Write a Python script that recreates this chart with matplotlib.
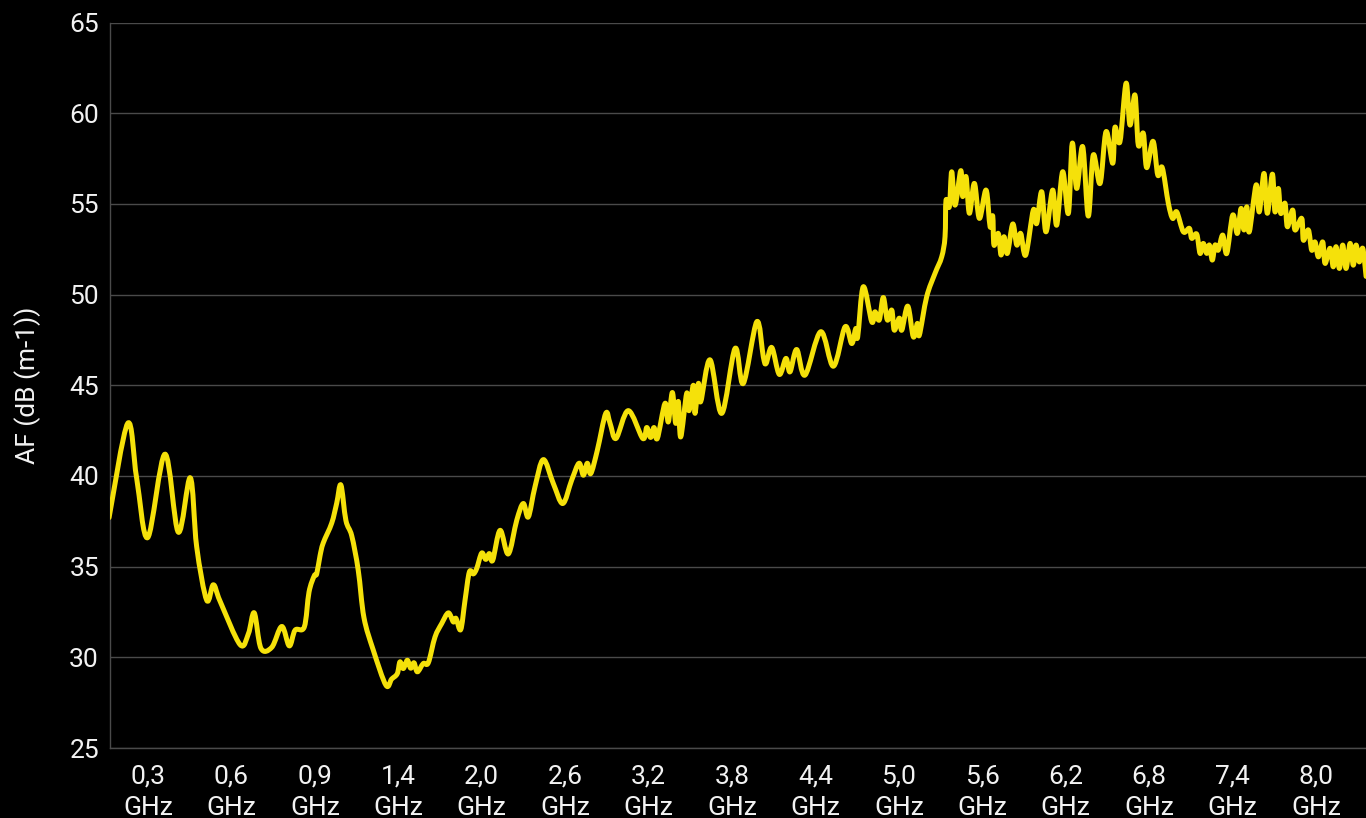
import numpy as np
import matplotlib
matplotlib.use("Agg")
import matplotlib.pyplot as plt
from matplotlib.path import Path
from matplotlib.patches import PathPatch

plt.rcParams["font.family"] = ["Roboto", "DejaVu Sans"]

# frequency (MHz) and antenna factor (dB(m-1))
freq_mhz = [
    160, 227, 259, 299, 361, 409, 452, 475, 511, 535, 559, 631, 661, 682, 706,
    745, 781, 808, 829, 862, 879, 898, 911, 931, 950, 1001, 1031, 1056, 1086,
    1121, 1160, 1194, 1250, 1326, 1360, 1394, 1412, 1436, 1465, 1489, 1513,
    1537, 1580, 1616, 1664, 1712, 1760, 1796, 1815, 1849, 1880, 1911, 1940,
    1964, 2000, 2029, 2055, 2079, 2132, 2191, 2252, 2299, 2335, 2383, 2443,
    2515, 2583, 2647, 2700, 2731, 2759, 2784, 2831, 2892, 2923, 2966, 3054,
    3158, 3187, 3215, 3239, 3263, 3318, 3342, 3371, 3395, 3414, 3431, 3474,
    3491, 3522, 3534, 3558, 3575, 3642, 3726, 3822, 3881, 3978, 4025, 4045,
    4086, 4140, 4188, 4217, 4265, 4325, 4438, 4529, 4613, 4661, 4690, 4704,
    4744, 4805, 4828, 4859, 4888, 4917, 4949, 4967, 5003, 5021, 5064, 5104,
    5133, 5147, 5200, 5260, 5308, 5332, 5339, 5363, 5380, 5404, 5445, 5459,
    5483, 5507, 5543, 5579, 5627, 5656, 5675, 5684, 5715, 5735, 5756, 5780,
    5819, 5848, 5876, 5912, 5967, 5991, 6027, 6058, 6106, 6135, 6178, 6219,
    6247, 6279, 6322, 6362, 6398, 6447, 6490, 6538, 6554, 6590, 6634, 6662,
    6698, 6722, 6758, 6782, 6828, 6862, 6894, 6938, 6969, 6998, 7046, 7089,
    7106, 7142, 7166, 7189, 7214, 7233, 7254, 7274, 7297, 7329, 7358, 7401,
    7434, 7461, 7482, 7502, 7520, 7569, 7592, 7626, 7650, 7686, 7705, 7729,
    7746, 7777, 7794, 7832, 7849, 7897, 7909, 7945, 7969, 7993, 8017, 8048,
    8065, 8101, 8124, 8144, 8168, 8192, 8216, 8245, 8268, 8288, 8311, 8336,
    8360,
]
af_db = [
    37.7, 42.9, 39.9, 36.6, 41.2, 36.9, 39.9, 36.1, 33.15, 34.0, 33.1, 30.7,
    31.3, 32.45, 30.5, 30.55, 31.7, 30.63, 31.5, 31.67, 33.6, 34.5, 34.6, 35.6,
    36.3, 37.4, 38.5, 39.5, 37.55, 36.7, 34.8, 32.2, 30.4, 28.46, 28.8, 29.1,
    29.75, 29.38, 29.84, 29.4, 29.7, 29.2, 29.66, 29.7, 31.12, 31.86, 32.45,
    31.95, 32.15, 31.53, 33.15, 34.7, 34.6, 34.9, 35.75, 35.4, 35.72, 35.35,
    37.0, 35.7, 37.56, 38.48, 37.74, 39.4, 40.9, 39.58, 38.48, 39.77, 40.7,
    40.04, 40.7, 40.13, 41.4, 43.45, 42.9, 42.07, 43.6, 42.07, 42.67, 42.12,
    42.67, 42.07, 44.0, 42.98, 44.6, 42.9, 44.1, 42.15, 44.55, 43.6, 45.0,
    43.45, 45.1, 44.1, 46.4, 43.45, 47.03, 45.1, 48.5, 46.57, 46.2, 47.08,
    45.6, 46.48, 45.74, 46.97, 45.56, 47.95, 46.05, 48.22, 47.3, 48.13, 47.67,
    50.43, 48.5, 49.05, 48.6, 49.84, 48.6, 49.14, 48.04, 48.7, 48.04, 49.36,
    47.67, 48.41, 47.76, 49.88, 51.17, 52.08, 53.19, 55.2, 54.84, 56.77, 54.93,
    56.83, 55.4, 56.5, 54.48, 56.13, 54.2, 55.76, 53.74, 54.33, 52.73, 53.37,
    52.18, 53.19, 52.27, 53.89, 52.73, 53.37, 52.18, 54.66, 53.92, 55.67,
    53.46, 55.76, 53.83, 56.77, 54.48, 58.34, 55.85, 58.15, 54.33, 57.69,
    56.13, 58.98, 57.24, 59.22, 58.43, 61.65, 59.35, 61.0, 58.24, 58.89, 57.0,
    58.45, 56.59, 57.0, 55.03, 54.2, 54.56, 53.46, 53.65, 53.1, 53.33, 52.27,
    52.82, 52.27, 52.73, 51.9, 52.73, 52.45, 53.28, 52.27, 54.38, 53.37, 54.75,
    53.56, 54.84, 53.46, 56.04, 54.56, 56.68, 54.48, 56.64, 54.56, 55.85,
    54.48, 55.03, 53.74, 54.66, 53.56, 54.2, 53.0, 53.56, 52.45, 52.9, 52.08,
    52.9, 51.72, 52.55, 51.53, 52.64, 51.44, 52.73, 51.44, 52.82, 51.62, 52.73,
    51.8, 52.55, 51.0,
]

# category axis: labels shown every N points, so steps differ per span
tick_ghz = [0.3, 0.6, 0.9, 1.4, 2.0, 2.6, 3.2, 3.8, 4.4, 5.0, 5.6, 6.2, 6.8, 7.4, 8.0]
tick_labels = [f"{f:.1f}".replace(".", ",") + "\nGHz" for f in tick_ghz]

YELLOW = "#F5E10A"
GRID = "#4a4a4a"
TEXT = "#f2f2f2"
FS = 19

# map frequency onto the category positions (0..14), extended one step each side
scale_f = [0.0] + tick_ghz + [8.6]
scale_p = list(range(-1, len(tick_ghz) + 1))
pos = np.interp(np.array(freq_mhz) / 1000.0, scale_f, scale_p)
val = np.array(af_db)


def smooth_path(x, y):
    # cardinal-spline style curve through the data points (line tension look)
    pts = np.column_stack([x, y])
    verts = [pts[0]]
    codes = [Path.MOVETO]
    n = len(pts)
    for i in range(n - 1):
        p0 = pts[max(i - 1, 0)]
        p1, p2 = pts[i], pts[i + 1]
        p3 = pts[min(i + 2, n - 1)]
        verts += [p1 + (p2 - p0) / 6, p2 - (p3 - p1) / 6, p2]
        codes += [Path.CURVE4] * 3
    return Path(verts, codes)


fig = plt.figure(figsize=(13.66, 8.18), dpi=100, facecolor="black")
ax = fig.add_axes([110 / 1366, 1 - 748 / 818, 1 - 110 / 1366, (748 - 22.5) / 818])
ax.set_facecolor("black")

ax.add_patch(PathPatch(smooth_path(pos, val), fill=False, ec=YELLOW, lw=3.6,
                       joinstyle="round", capstyle="round", zorder=3))

ax.set_xlim(-38 / 83.43, 1218 / 83.43)
ax.set_ylim(25, 65)
ax.set_yticks(range(25, 66, 5))
ax.set_xticks(range(len(tick_ghz)))
ax.set_xticklabels(tick_labels, linespacing=1.4)

ax.grid(axis="y", color=GRID, lw=1.0)
ax.set_axisbelow(True)
for side in ["top", "right"]:
    ax.spines[side].set_visible(False)
for side in ["left", "bottom"]:
    ax.spines[side].set_color(GRID)
    ax.spines[side].set_linewidth(1.0)

ax.tick_params(axis="both", length=0, colors=TEXT, labelsize=FS)
ax.tick_params(axis="y", pad=8)
ax.tick_params(axis="x", pad=12)
ax.set_ylabel("AF (dB (m-1))", color=TEXT, fontsize=FS, labelpad=20)

fig.savefig("out.png", dpi=100, facecolor="black")
